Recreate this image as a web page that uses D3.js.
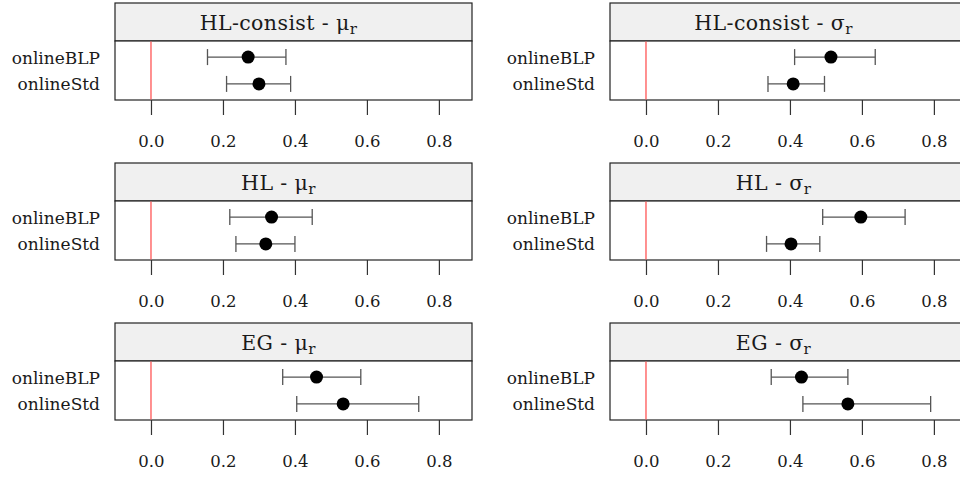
<!DOCTYPE html>
<html>
<head>
<meta charset="utf-8">
<script src="https://cdn.jsdelivr.net/npm/d3@7"></script>
<style>
  body { margin: 0; background: #fff; }
  svg text { font-family: "DejaVu Serif", serif !important; }
</style>
</head>
<body>
<svg id="chart" width="960" height="477"></svg>
<script>
// data
var methods = ["onlineBLP", "onlineStd"];
var models = ["HL-consist", "HL-consist", "HL", "HL", "EG", "EG"];
var params = ["\u03bc", "\u03c3", "\u03bc", "\u03c3", "\u03bc", "\u03c3"];
var estimate = [[0.270, 0.300], [0.514, 0.409], [0.335, 0.319], [0.597, 0.403], [0.460, 0.534], [0.432, 0.561]];
var lower = [[0.157, 0.210], [0.413, 0.339], [0.219, 0.236], [0.491, 0.335], [0.366, 0.405], [0.348, 0.436]];
var upper = [[0.375, 0.388], [0.637, 0.496], [0.448, 0.400], [0.720, 0.483], [0.583, 0.744], [0.561, 0.791]];
var xTicks = [0, 0.2, 0.4, 0.6, 0.8];
var xDomain = [-0.1, 0.892];

var svg = d3.select("#chart");

var panelW = 357,
    stripH = 38,
    plotH = 59,
    colX = [115, 610],
    rowY = [3, 163, 323];

models.forEach(function (m, i) {
    var col = i % 2, row = Math.floor(i / 2);
    var g = svg.append("g")
        .attr("transform", "translate(" + colX[col] + "," + rowY[row] + ")");

    var x = d3.scaleLinear().domain(xDomain).range([0, panelW]);
    var y = d3.scalePoint().domain(methods).range([stripH, stripH + plotH]).padding(0.6);

    // strip
    g.append("rect")
        .attr("x", 0).attr("y", 0)
        .attr("width", panelW).attr("height", stripH)
        .attr("fill", "#f0f0f0")
        .attr("stroke", "#222").attr("stroke-width", 1.2);

    var title = g.append("text")
        .attr("x", panelW / 2 - 15)
        .attr("y", stripH / 2 + 8)
        .attr("text-anchor", "middle")
        .style("font-size", "20.5px")
        .style("letter-spacing", "0.4px")
        .attr("fill", "#1a1a1a");
    title.append("tspan").text(m + " - " + params[i]);
    title.append("tspan").attr("dy", 4).style("font-size", "15px").text("r");

    // panel
    g.append("rect")
        .attr("x", 0).attr("y", stripH)
        .attr("width", panelW).attr("height", plotH)
        .attr("fill", "#fff")
        .attr("stroke", "#222").attr("stroke-width", 1.2);

    // zero line
    g.append("line")
        .attr("x1", x(0)).attr("x2", x(0))
        .attr("y1", stripH + 0.6).attr("y2", stripH + plotH - 0.6)
        .attr("stroke", "#ff5555").attr("stroke-width", 1.3);

    // x axis
    var ax = g.append("g")
        .attr("transform", "translate(0," + (stripH + plotH) + ")")
        .call(d3.axisBottom(x).tickValues(xTicks).tickFormat(d3.format(".1f"))
            .tickSize(15).tickPadding(20));
    ax.attr("font-family", null);
    ax.select(".domain").remove();
    ax.selectAll(".tick line").attr("stroke", "#333").attr("stroke-width", 1.2);
    ax.selectAll(".tick text")
        .attr("fill", "#1a1a1a")
        .style("font-size", "16.5px");

    // y labels
    g.selectAll(".ylab")
        .data(methods)
        .enter().append("text")
        .attr("x", -15)
        .attr("y", function (d) { return y(d) + 6.5; })
        .attr("text-anchor", "end")
        .style("font-size", "17px")
        .attr("fill", "#1a1a1a")
        .text(function (d) { return d; });

    // error bars
    var bars = g.selectAll(".err")
        .data(methods)
        .enter().append("g");
    bars.append("line")
        .attr("x1", function (d, j) { return x(lower[i][j]); })
        .attr("x2", function (d, j) { return x(upper[i][j]); })
        .attr("y1", function (d) { return y(d); })
        .attr("y2", function (d) { return y(d); });
    bars.append("line")
        .attr("x1", function (d, j) { return x(lower[i][j]); })
        .attr("x2", function (d, j) { return x(lower[i][j]); })
        .attr("y1", function (d) { return y(d) - 8; })
        .attr("y2", function (d) { return y(d) + 8; });
    bars.append("line")
        .attr("x1", function (d, j) { return x(upper[i][j]); })
        .attr("x2", function (d, j) { return x(upper[i][j]); })
        .attr("y1", function (d) { return y(d) - 8; })
        .attr("y2", function (d) { return y(d) + 8; });
    bars.selectAll("line").attr("stroke", "#555").attr("stroke-width", 1.3);

    g.selectAll(".pt")
        .data(methods)
        .enter().append("circle")
        .attr("cx", function (d, j) { return x(estimate[i][j]); })
        .attr("cy", function (d) { return y(d); })
        .attr("r", 6.5)
        .attr("fill", "#000");
});
</script>
</body>
</html>
